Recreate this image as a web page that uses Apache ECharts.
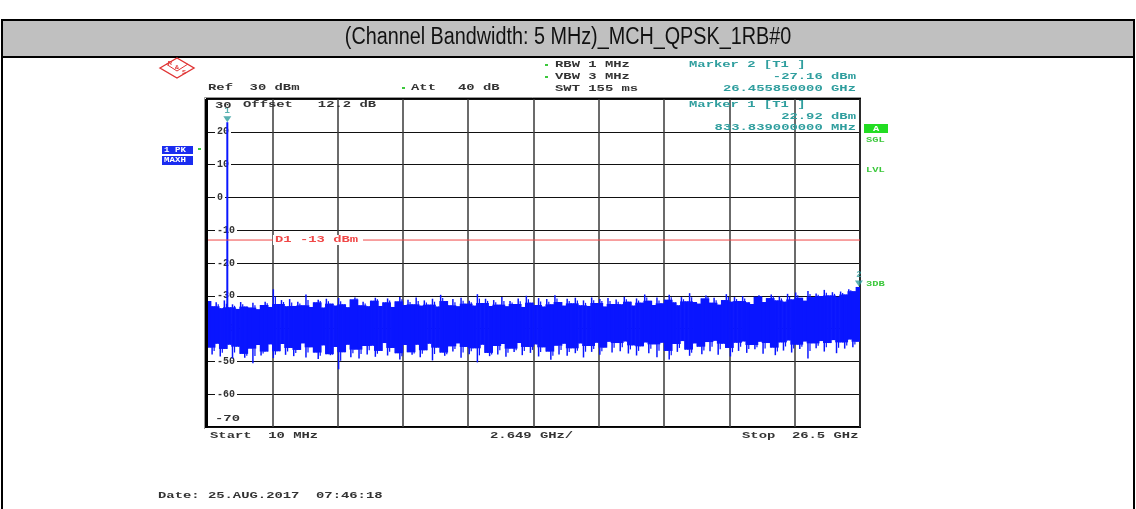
<!DOCTYPE html>
<html><head><meta charset="utf-8">
<script src="https://cdn.jsdelivr.net/npm/echarts@6/dist/echarts.min.js"></script>
<style>html,body{margin:0;padding:0;background:#fff}#c{width:1136px;height:509px}</style>
</head><body><div id="c"></div>
<script>
// ---------- data ----------
const chartTitle = '(Channel Bandwidth: 5 MHz)_MCH_QPSK_1RB#0';
const startMHz = 10, stopMHz = 26500;
const refLevel = 30, bottomLevel = -70, dbPerDiv = 10;
const xDivisions = 10;
const displayLine = -13;
const marker1 = {name: '1', freqMHz: 833.839, level: 22.92};
const marker2 = {name: '2', freqMHz: 26455.85, level: -27.16};
const carrierBase = -44.5;
// peak-detector trace: per sweep column, upper and lower excursion (dBm)
const traceMax = [
 -31.6,-33.2,-32.0,-33.8,-31.4,-33.5,-32.6,-34.0,-31.9,-33.3,
 -33.6,-32.1,-34.1,-32.8,-31.8,-33.4,-28.0,-32.5,-31.3,-33.2,
 -31.0,-33.1,-31.8,-32.9,-29.6,-33.4,-32.0,-31.2,-33.6,-30.9,
 -32.4,-33.0,-30.7,-32.6,-33.5,-31.1,-30.5,-32.9,-31.8,-33.2,
 -31.5,-30.6,-33.1,-32.0,-30.8,-33.4,-31.7,-30.4,-32.8,-31.2,
 -32.6,-30.5,-33.0,-31.4,-32.7,-30.9,-33.3,-29.7,-31.6,-32.9,
 -31.0,-33.2,-30.6,-32.4,-31.5,-33.0,-29.5,-32.2,-30.9,-33.1,
 -31.3,-32.7,-30.4,-33.2,-31.6,-32.5,-30.8,-33.4,-30.0,-32.1,
 -32.8,-30.7,-33.3,-31.0,-32.6,-29.8,-31.9,-33.0,-30.9,-32.3,
 -30.6,-32.9,-31.4,-33.1,-30.5,-32.2,-31.0,-33.3,-30.7,-32.5,
 -31.1,-32.6,-30.3,-31.8,-33.0,-30.8,-32.1,-29.6,-31.5,-32.8,
 -30.5,-32.3,-31.2,-29.7,-32.0,-32.9,-30.4,-31.7,-29.2,-31.9,
 -32.4,-30.8,-29.9,-32.1,-30.6,-32.7,-31.3,-29.5,-31.8,-30.4,
 -31.6,-30.1,-32.0,-32.5,-30.3,-29.8,-31.9,-30.7,-29.6,-31.4,
 -30.2,-31.8,-29.4,-31.1,-29.0,-30.6,-31.5,-28.5,-30.4,-29.3,
 -30.1,-28.2,-29.9,-28.9,-30.3,-28.7,-29.6,-28.0,-28.6,-27.3
];
const traceMin = [
 -45.8,-47.9,-44.6,-48.5,-46.2,-44.9,-49.1,-45.5,-47.7,-48.9,
 -46.1,-50.6,-45.0,-48.2,-47.0,-44.8,-49.0,-46.9,-44.7,-48.0,
 -45.9,-48.4,-46.5,-44.5,-48.8,-45.7,-47.3,-49.3,-45.1,-47.8,
 -48.1,-45.6,-52.4,-47.2,-44.9,-48.7,-46.4,-49.1,-45.3,-47.9,
 -45.2,-48.6,-46.8,-44.4,-48.2,-45.9,-47.5,-49.4,-45.0,-47.2,
 -48.0,-44.9,-48.7,-46.6,-44.6,-49.7,-45.8,-47.3,-48.3,-45.4,
 -47.0,-44.5,-48.9,-45.6,-47.8,-46.0,-50.3,-44.9,-47.4,-48.4,
 -45.3,-47.9,-44.7,-48.6,-46.1,-47.1,-44.4,-48.1,-45.6,-47.4,
 -44.8,-48.5,-45.7,-47.0,-49.5,-45.2,-47.9,-44.6,-48.3,-46.0,
 -47.5,-44.5,-48.8,-45.3,-47.1,-44.3,-48.0,-45.8,-44.0,-47.3,
 -44.4,-46.9,-43.9,-47.6,-45.1,-48.2,-45.4,-44.2,-47.5,-44.8,
 -48.7,-44.3,-46.8,-49.4,-44.7,-47.1,-43.8,-46.4,-48.3,-44.5,
 -45.5,-47.8,-44.1,-46.9,-43.7,-48.0,-44.6,-45.9,-48.5,-44.3,
 -46.8,-43.9,-47.4,-45.0,-46.3,-44.0,-47.7,-44.4,-45.8,-48.1,
 -44.2,-46.7,-43.6,-47.3,-44.9,-46.2,-43.9,-49.1,-44.5,-46.0,
 -43.8,-47.0,-44.4,-43.5,-47.5,-44.2,-46.1,-43.3,-45.7,-44.0
];

// ---------- build ----------
const N = traceMax.length;
const colStep = (stopMHz - startMHz) / N;
function median3(a, b, c) { return Math.max(Math.min(a, b), Math.min(Math.max(a, b), c)); }
// each column: [freq, max, min, coreTop, coreBottom]; the solid core is the median of the neighbouring excursions
const trace = traceMax.map(function (mx, i) {
  const a = Math.max(0, i - 1), b = Math.min(N - 1, i + 1);
  const coreTop = Math.min(mx, median3(traceMax[a], mx, traceMax[b]));
  const coreBottom = Math.max(traceMin[i], median3(traceMin[a], traceMin[i], traceMin[b]));
  return [startMHz + (i + 0.5) * colStep, mx, traceMin[i], coreTop, coreBottom];
});

const TEAL = '#2f9e9e', GREEN = '#3cc83c', DARK = '#333', RED = '#f04848', BLUE = '#0a16ff';
const SX = 1.54;
function mono(str, x, y, color, align, size, sx) {
  return {type: 'text', x: x, y: y, scaleX: sx || SX, silent: true, z: 100,
    style: {text: str, x: 0, y: 0, fill: color,
      font: 'bold ' + (size || 9) + 'px "Liberation Mono", "DejaVu Sans Mono", monospace',
      align: align || 'left', textAlign: align || 'left', verticalAlign: 'middle', textVerticalAlign: 'middle'}};
}

const chart = echarts.init(document.getElementById('c'), null, {renderer: 'canvas'});

const graphics = [
  {type: 'rect', shape: {x: 2, y: 20, width: 1132, height: 37}, style: {fill: '#c0c0c0', stroke: '#000', lineWidth: 2}, z: 0, silent: true},
  {type: 'line', shape: {x1: 2, y1: 57, x2: 2, y2: 509}, style: {stroke: '#000', lineWidth: 2}, silent: true},
  {type: 'line', shape: {x1: 1134, y1: 57, x2: 1134, y2: 509}, style: {stroke: '#000', lineWidth: 2}, silent: true},
  {type: 'text', x: 568, y: 38, scaleX: 0.86, silent: true, z: 100,
    style: {text: chartTitle, x: 0, y: 0, fill: '#111', font: '23px "Liberation Sans", Arial, sans-serif',
      align: 'center', textAlign: 'center', verticalAlign: 'middle', textVerticalAlign: 'middle'}},
  // R&S logo
  {type: 'polygon', shape: {points: [[160, 68], [177, 58], [194, 68], [177, 78]]}, style: {fill: 'none', stroke: '#e03535', lineWidth: 1.4}, silent: true},
  {type: 'polyline', shape: {points: [[166, 64], [177, 71], [188, 64]]}, style: {fill: 'none', stroke: '#e03535', lineWidth: 1}, silent: true},
  {type: 'text', x: 170, y: 63, silent: true, style: {text: 'R', fill: '#e03535', font: 'bold 6px sans-serif', align: 'center', verticalAlign: 'middle'}},
  {type: 'text', x: 177, y: 67, silent: true, style: {text: '&', fill: '#e03535', font: 'bold 6px sans-serif', align: 'center', verticalAlign: 'middle'}},
  {type: 'text', x: 184, y: 72, silent: true, style: {text: 'S', fill: '#e03535', font: 'bold 6px sans-serif', align: 'center', verticalAlign: 'middle'}},
  // header settings
  mono('Ref  30 dBm', 208, 88, DARK),
  {type: 'rect', shape: {x: 402, y: 87, width: 3, height: 2}, style: {fill: GREEN}, silent: true},
  mono('Att', 411, 88, DARK),
  mono('40 dB', 458, 88, DARK),
  {type: 'rect', shape: {x: 545, y: 64, width: 3, height: 2}, style: {fill: GREEN}, silent: true},
  {type: 'rect', shape: {x: 545, y: 76, width: 3, height: 2}, style: {fill: GREEN}, silent: true},
  mono('RBW 1 MHz', 555, 65, DARK),
  mono('VBW 3 MHz', 555, 77, DARK),
  mono('SWT 155 ms', 555, 89, DARK),
  // marker readouts
  mono('Marker ' + marker2.name + ' [T1 ]', 689, 65, TEAL),
  mono(marker2.level.toFixed(2) + ' dBm', 856, 77, TEAL, 'right'),
  mono((marker2.freqMHz / 1000).toFixed(9) + ' GHz', 856, 89, TEAL, 'right'),
  mono('Marker ' + marker1.name + ' [T1 ]', 689, 105, TEAL),
  mono(marker1.level.toFixed(2) + ' dBm', 856, 117, TEAL, 'right'),
  mono(marker1.freqMHz.toFixed(9) + ' MHz', 856, 128, TEAL, 'right'),
  // in-plot annotations
  mono(String(refLevel), 215, 106, DARK),
  mono('Offset   12.2 dB', 243, 105, DARK),
  mono(String(bottomLevel), 215, 419, DARK),
  mono('Start  10 MHz', 210, 436, DARK),
  mono('2.649 GHz/', 490, 436, DARK),
  mono('Stop  26.5 GHz', 742, 436, DARK),
  mono('Date: 25.AUG.2017  07:46:18', 158, 496, DARK),
  // right side status
  {type: 'rect', shape: {x: 864, y: 124, width: 24, height: 9}, style: {fill: '#22dd22'}, silent: true},
  mono('A', 876, 128.5, '#fff', 'center', 8, 1.3),
  mono('SGL', 866, 140, GREEN, 'left', 8, 1.3),
  mono('LVL', 866, 170, GREEN, 'left', 8, 1.3),
  mono('3DB', 866, 284, GREEN, 'left', 8, 1.3),
  // left trace info
  {type: 'rect', shape: {x: 162, y: 146, width: 31, height: 8}, style: {fill: '#1a2cf0'}, silent: true},
  {type: 'rect', shape: {x: 162, y: 156, width: 31, height: 9}, style: {fill: '#1a2cf0'}, silent: true},
  mono('1 PK', 164, 150, '#fff', 'left', 7, 1.3),
  mono('MAXH', 164, 160.5, '#fff', 'left', 7, 1.3),
  {type: 'rect', shape: {x: 198, y: 148, width: 3, height: 2}, style: {fill: GREEN}, silent: true},
  // plot frame accents
  {type: 'line', shape: {x1: 204.5, y1: 97.5, x2: 204.5, y2: 429}, style: {stroke: '#999', lineWidth: 1}, silent: true},
  {type: 'line', shape: {x1: 204.5, y1: 97.5, x2: 861, y2: 97.5}, style: {stroke: '#999', lineWidth: 1}, silent: true},
  {type: 'line', shape: {x1: 206.5, y1: 99, x2: 206.5, y2: 428}, style: {stroke: '#000', lineWidth: 3}, silent: true, z: 50}
];

chart.setOption({
  animation: false,
  backgroundColor: '#fff',
  grid: {left: 207, top: 99, width: 653, height: 328, show: true, borderColor: '#000', borderWidth: 2, backgroundColor: 'transparent'},
  xAxis: [
    {type: 'value', min: 0, max: xDivisions, interval: 1, axisLine: {show: false}, axisTick: {show: false}, axisLabel: {show: false},
      splitLine: {show: true, lineStyle: {color: '#3a3a3a', width: 1.5}}},
    {type: 'value', min: startMHz, max: stopMHz, show: false}
  ],
  yAxis: {type: 'value', min: bottomLevel, max: refLevel, interval: dbPerDiv,
    axisLine: {show: false}, axisTick: {show: false},
    axisLabel: {inside: true, margin: 8, showMinLabel: false, showMaxLabel: false, color: DARK,
      fontFamily: '"Liberation Mono", monospace', fontWeight: 'bold', fontSize: 10,
      backgroundColor: '#fff', padding: [0, 2, 0, 2], verticalAlign: 'middle'},
    splitLine: {show: true, lineStyle: {color: '#111', width: 1}}},
  graphic: graphics,
  series: [
    {type: 'custom', xAxisIndex: 1, data: trace, encode: {x: 0, y: [1, 2]}, z: 3, silent: true, clip: true,
      renderItem: function (params, api) {
        const f = api.value(0);
        const top = api.coord([f, api.value(1)]);
        const bot = api.coord([f, api.value(2)]);
        const cTop = api.coord([f, api.value(3)]);
        const cBot = api.coord([f, api.value(4)]);
        const w = api.size([colStep, 0])[0];
        return {type: 'group', children: [
          {type: 'rect', shape: {x: top[0] - w / 2 - 0.3, y: cTop[1], width: w + 0.6, height: cBot[1] - cTop[1]}, style: {fill: BLUE}},
          {type: 'line', shape: {x1: top[0] - w / 4, y1: top[1], x2: top[0] - w / 4, y2: bot[1]}, style: {stroke: BLUE, lineWidth: 1.5}},
          {type: 'line', shape: {x1: top[0] + w / 4, y1: (top[1] + cTop[1]) / 2, x2: top[0] + w / 4, y2: (bot[1] + cBot[1]) / 2}, style: {stroke: BLUE, lineWidth: 1.2}}
        ]};
      }},
    {type: 'line', xAxisIndex: 1, data: [[marker1.freqMHz, carrierBase], [marker1.freqMHz, marker1.level]], symbol: 'none', lineStyle: {color: BLUE, width: 2}, z: 3, silent: true},
    {type: 'line', xAxisIndex: 1, data: [[startMHz, displayLine], [stopMHz, displayLine]], symbol: 'none', lineStyle: {color: RED, width: 1}, z: 4, silent: true},
    {type: 'scatter', xAxisIndex: 1, data: [[marker1.freqMHz, marker1.level, marker1.name], [marker2.freqMHz, marker2.level, marker2.name]],
      symbol: 'triangle', symbolRotate: 180, symbolSize: [8, 6], symbolOffset: [0, -3], itemStyle: {color: TEAL}, z: 6, silent: true,
      label: {show: true, position: 'top', distance: 1, color: TEAL, fontFamily: '"Liberation Mono", monospace', fontWeight: 'bold', fontSize: 9,
        formatter: function (p) { return p.value[2]; }}}
  ]
});

// D1 label on the display line
const dY = chart.convertToPixel({yAxisIndex: 0}, displayLine);
graphics.push({type: 'rect', shape: {x: 273, y: dY - 5, width: 90, height: 10}, style: {fill: '#fff'}, z: 90, silent: true});
graphics.push(mono('D1 ' + displayLine + ' dBm', 275, dY, RED));
chart.setOption({graphic: graphics});
</script></body></html>
